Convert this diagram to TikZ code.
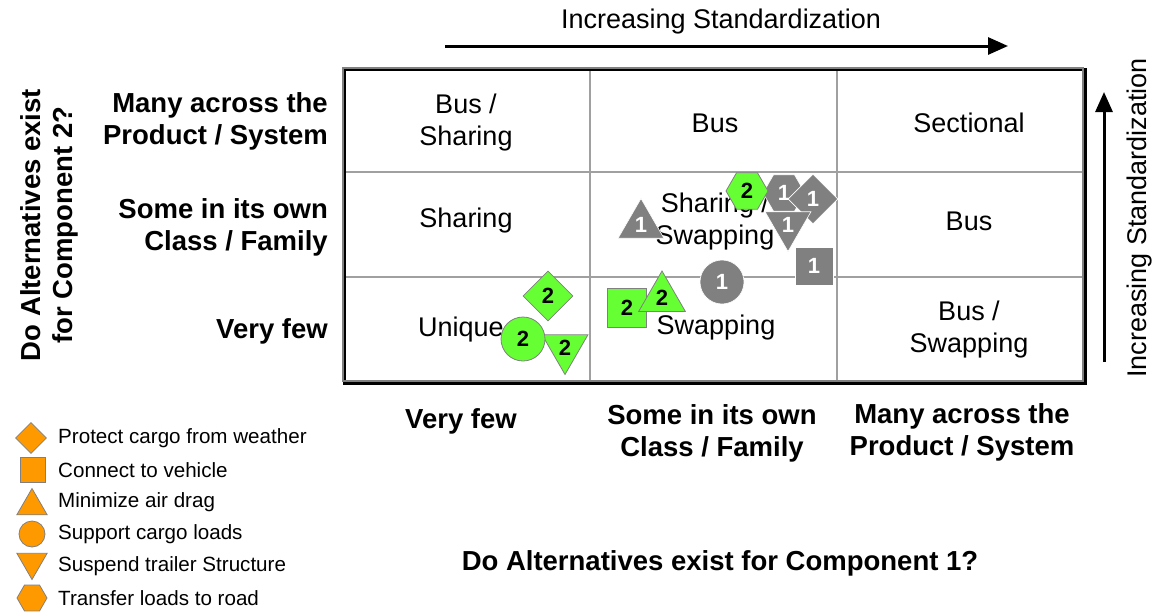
\documentclass[tikz,border=0pt]{standalone}
\usepackage{fontspec}
\setmainfont{Liberation Sans}
\usetikzlibrary{shapes.geometric,arrows.meta}
\definecolor{mkgreen}{HTML}{66FF33}
\definecolor{mkgray}{HTML}{808080}
\definecolor{mkorange}{HTML}{FF9900}
\definecolor{gridgray}{HTML}{A0A0A0}

\begin{document}
\begin{tikzpicture}[x=1pt,y=-1pt,
    cell/.style={font=\fontsize{27}{32}\selectfont,align=center,inner sep=0pt},
    axis/.style={font=\fontsize{27.5}{32}\selectfont\bfseries,align=center,inner sep=0pt},
    legtext/.style={font=\fontsize{20.6}{24}\selectfont,anchor=west,inner sep=0pt},
    axisarrow/.style={line width=3pt,-{Triangle[length=20pt,width=17pt]}},
    two/.style={fill=mkgreen,draw=mkgray,line width=0.8pt,inner sep=0pt,
      font=\fontsize{22}{22}\selectfont\bfseries,text=black},
    one/.style={fill=mkgray,draw=white,line width=0.6pt,inner sep=0pt,
      font=\fontsize{22}{22}\selectfont\bfseries,text=white},
    leg/.style={fill=mkorange,draw=mkgray,line width=0.8pt,inner sep=0pt},
    dia/.style={diamond,minimum width=50pt,minimum height=50pt},
    sq/.style={rectangle,minimum size=38pt},
    tri/.style={regular polygon,regular polygon sides=3,minimum size=53pt},
    vtri/.style={tri,shape border rotate=180},
    rnd/.style={circle,minimum size=44pt},
    hexa/.style={regular polygon,regular polygon sides=6,minimum size=42pt}]

  \useasboundingbox (0,0) rectangle (1159,613);

  % grid
  \draw[gridgray,line width=1.3pt] (590,68) -- (590,382) (837,68) -- (837,382)
    (343,172) -- (1084,172) (343,277) -- (1084,277);
  \draw[black,line width=3pt] (344,69) rectangle (1085,383);
  \draw[mkgray,line width=1.2pt] (343,68) rectangle (1083,381);

  % cell texts
  \node (c11) [cell] at (466,123) {Bus /\\Sharing};
  \node (c12) [cell] at (715,123) {Bus};
  \node (c13) [cell] at (969,123) {Sectional};
  \node (c21) [cell] at (466,221) {Sharing};
  \node (c22) [cell] at (715,222) {Sharing /\\Swapping};
  \node (c23) [cell] at (969,221) {Bus};
  \node (c31) [cell] at (461,330) {Unique};
  \node (c32) [cell] at (716,328) {Swapping};
  \node (c33) [cell] at (969,330) {Bus /\\Swapping};

  % axes
  \node (top) [cell] at (721,22) {Increasing Standardization};
  \coordinate (ha) at (445,46);
  \coordinate (hb) at (1008,46);
  \draw[axisarrow] (ha) -- (hb);
  \node (right) [cell,rotate=90] at (1140,218) {Increasing Standardization};
  \coordinate (va) at (1104,362);
  \coordinate (vb) at (1104,92);
  \draw[axisarrow] (va) -- (vb);

  \node (yq) [axis,rotate=90] at (49,225) {Do Alternatives exist\\for Component 2?};
  \node (r1) [axis,align=right,anchor=east] at (328,121) {Many across the\\Product / System};
  \node (r2) [axis,align=right,anchor=east] at (328,227) {Some in its own\\Class / Family};
  \node (r3) [axis,align=right,anchor=east] at (328,331) {Very few};
  \node (k1) [axis] at (461,421) {Very few};
  \node (k2) [axis] at (712,433) {Some in its own\\Class / Family};
  \node (k3) [axis] at (962,432) {Many across the\\Product / System};
  \node (xq) [axis] at (720,563) {Do Alternatives exist for Component 1?};

  % component 1
  \node (g1) [one,rnd] at (722,282) {1};
  \node (g2) [one,sq] at (814,266) {1};
  \node (g3) [one,tri] at (641,225) {1};
  \node (g4) [one,hexa] at (784,193) {1};
  \node (g5) [one,dia] at (813,199) {1};
  \node (g6) [one,vtri] at (788,225) {1};

  % component 2
  \node (e1) [two,hexa] at (747,191) {2};
  \node (e2) [two,dia] at (548,296) {2};
  \node (e3) [two,vtri] at (565,348) {2};
  \node (e4) [two,rnd] at (523,339) {2};
  \node (e5) [two,sq,minimum size=39pt] at (627,308) {2};
  \node (e6) [two,tri,minimum size=54pt] at (662,298) {2};

  % legend
  \node (l1) [leg,diamond,minimum width=31pt,minimum height=31pt] at (31,438) {};
  \node (l2) [leg,rectangle,minimum size=25pt] at (33,470) {};
  \node (l3) [leg,regular polygon,regular polygon sides=3,minimum size=35pt] at (32,506) {};
  \node (l4) [leg,circle,minimum size=26pt] at (32,534) {};
  \node (l5) [leg,regular polygon,regular polygon sides=3,shape border rotate=180,minimum size=35pt] at (32,562) {};
  \node (l6) [leg,regular polygon,regular polygon sides=6,minimum size=30pt] at (32,598) {};
  \node (t1) [legtext] at (58,438) {Protect cargo from weather};
  \node (t2) [legtext] at (58,470) {Connect to vehicle};
  \node (t3) [legtext] at (58,502) {Minimize air drag};
  \node (t4) [legtext] at (58,534) {Support cargo loads};
  \node (t5) [legtext] at (58,566) {Suspend trailer Structure};
  \node (t6) [legtext] at (58,598) {Transfer loads to road};
\end{tikzpicture}
\end{document}
